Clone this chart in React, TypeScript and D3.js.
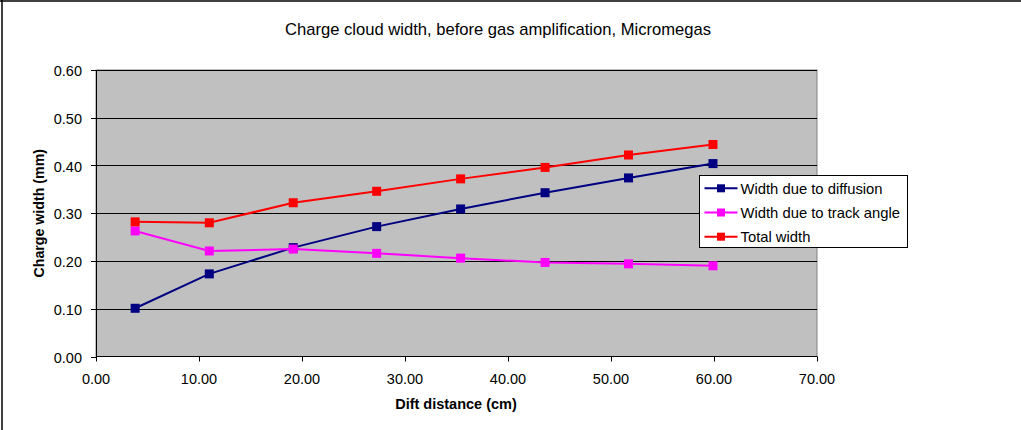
import React from "react";
import * as d3 from "d3";

// Drift distance (cm) for each measurement
const driftDistance = [3.8, 11.0, 19.15, 27.25, 35.4, 43.6, 51.7, 59.9];

// Charge widths (mm)
const diffusionWidth = [0.101, 0.173, 0.228, 0.272, 0.309, 0.343, 0.374, 0.404];
const trackAngleWidth = [0.263, 0.221, 0.225, 0.216, 0.206, 0.197, 0.194, 0.19];
const totalWidth = [0.282, 0.28, 0.322, 0.346, 0.372, 0.396, 0.422, 0.444];

const seriesNames = ["Width due to diffusion", "Width due to track angle", "Total width"];
const seriesColors = ["#000080", "#FF00FF", "#FF0000"];

const xTicks = [0, 10, 20, 30, 40, 50, 60, 70];
const yTicks = [0, 0.1, 0.2, 0.3, 0.4, 0.5, 0.6];

const W = 1021;
const H = 430;
const plot = { left: 96, right: 817, top: 70, bottom: 356.5 };
const FONT = "'Liberation Sans', Arial, sans-serif";

export default function App() {
  const x = d3.scaleLinear().domain([0, 70]).range([plot.left, plot.right]);
  const y = d3.scaleLinear().domain([0, 0.6]).range([plot.bottom, plot.top]);

  const series = [diffusionWidth, trackAngleWidth, totalWidth].map((vals, i) => ({
    name: seriesNames[i],
    color: seriesColors[i],
    points: vals.map((v, j) => [driftDistance[j], v] as [number, number]),
  }));

  const line = d3
    .line<[number, number]>()
    .x((d) => x(d[0]))
    .y((d) => y(d[1]));

  const ms = 9; // marker size
  const legend = { x: 699.5, y: 175.5, w: 208, h: 72 };

  return (
    <svg
      width={W}
      height={H}
      style={{ position: "absolute", left: 0, top: 0, background: "#fff" }}
      fontFamily={FONT}
    >
      {/* outer chart frame (top and left edges visible) */}
      <line x1={0} x2={W} y1={1} y2={1} stroke="#000" strokeWidth={1.5} />
      <line x1={2} x2={2} y1={0} y2={H} stroke="#000" strokeWidth={1.5} />

      <text x={498} y={35} textAnchor="middle" fontSize={16.6} fill="#000">
        Charge cloud width, before gas amplification, Micromegas
      </text>

      {/* plot area */}
      <rect
        x={plot.left}
        y={plot.top}
        width={plot.right - plot.left}
        height={plot.bottom - plot.top}
        fill="#C0C0C0"
        stroke="#808080"
        strokeWidth={1}
      />

      {yTicks.slice(1).map((t) => (
        <line
          key={"g" + t}
          x1={plot.left}
          x2={plot.right}
          y1={Math.round(y(t)) + 0.5}
          y2={Math.round(y(t)) + 0.5}
          stroke="#000"
          strokeWidth={1}
        />
      ))}

      {/* y axis */}
      <line x1={plot.left + 0.5} x2={plot.left + 0.5} y1={plot.top} y2={plot.bottom} stroke="#000" />
      {yTicks.map((t) => (
        <g key={"y" + t}>
          <line
            x1={plot.left - 5}
            x2={plot.left}
            y1={Math.round(y(t)) + 0.5}
            y2={Math.round(y(t)) + 0.5}
            stroke="#000"
          />
          <text x={plot.left - 14} y={y(t) + 6} textAnchor="end" fontSize={14.5} fill="#000">
            {t.toFixed(2)}
          </text>
        </g>
      ))}

      {/* x axis */}
      <line x1={plot.left} x2={plot.right} y1={plot.bottom} y2={plot.bottom} stroke="#000" />
      {xTicks.map((t) => (
        <g key={"x" + t}>
          <line
            x1={Math.round(x(t)) + 0.5}
            x2={Math.round(x(t)) + 0.5}
            y1={plot.bottom}
            y2={plot.bottom + 5}
            stroke="#000"
          />
          <text x={x(t)} y={383.5} textAnchor="middle" fontSize={14.5} fill="#000">
            {t.toFixed(2)}
          </text>
        </g>
      ))}

      <text x={456} y={409} textAnchor="middle" fontSize={14.5} fontWeight="bold" fill="#000">
        Dift distance (cm)
      </text>
      <text
        transform={`translate(44,${(plot.top + plot.bottom) / 2}) rotate(-90)`}
        textAnchor="middle"
        fontSize={14.2}
        fontWeight="bold"
        fill="#000"
      >
        Charge width (mm)
      </text>

      {/* series lines and markers */}
      {series.map((s) => (
        <g key={s.name}>
          <path d={line(s.points) || ""} fill="none" stroke={s.color} strokeWidth={2} />
          {s.points.map((p, j) => (
            <rect
              key={j}
              x={x(p[0]) - ms / 2}
              y={y(p[1]) - ms / 2}
              width={ms}
              height={ms}
              fill={s.color}
            />
          ))}
        </g>
      ))}

      {/* legend */}
      <rect x={legend.x} y={legend.y} width={legend.w} height={legend.h} fill="#fff" stroke="#000" />
      {series.map((s, i) => {
        const cy = legend.y + 12.8 + i * 24.2;
        return (
          <g key={"l" + s.name}>
            <line x1={legend.x + 5} x2={legend.x + 38} y1={cy} y2={cy} stroke={s.color} strokeWidth={2} />
            <rect x={legend.x + 21.5 - 4} y={cy - 4} width={8} height={8} fill={s.color} />
            <text x={legend.x + 41} y={cy + 5.2} fontSize={14.8} fill="#000">
              {s.name}
            </text>
          </g>
        );
      })}
    </svg>
  );
}
